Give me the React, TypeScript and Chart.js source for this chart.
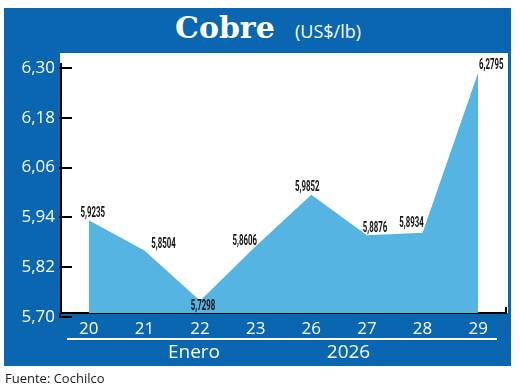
import React, { useEffect, useRef } from "react";
import { Chart, registerables } from "chart.js";

Chart.register(...registerables);

// ---- data ----
const DAYS = ["20", "21", "22", "23", "26", "27", "28", "29"];
const PRICES = [5.9235, 5.8504, 5.7298, 5.8606, 5.9852, 5.8876, 5.8934, 6.2795];
const Y_TICKS = [5.7, 5.82, 5.94, 6.06, 6.18, 6.3];
const TITLE = "Cobre";
const UNIT = "(US$/lb)";
const MONTH = "Enero";
const YEAR = "2026";
const SOURCE = "Fuente: Cochilco";

// ---- layout / style (label offsets from each point, px) ----
const LABEL_OFFSETS: [number, number][] = [
  [4, -7],
  [19, -6],
  [3, 6],
  [-11, -5],
  [-4, -7],
  [8, -7],
  [-11, -9],
  [13, -7],
];
const TICK_SHIFT = 4;

const BLUE = "#0a66b0";
const FILL = "#56b4e3";
const SANS = "'Open Sans', 'Noto Sans', sans-serif";

const fmt = (v: number, d: number) => v.toFixed(d).replace(".", ",");

const decorPlugin = {
  id: "decor",
  afterDraw(chart: any) {
    const { ctx, chartArea: a, scales } = chart;
    const y = scales.y;
    ctx.save();
    ctx.strokeStyle = "#000";
    ctx.lineWidth = 2;
    // y axis extension below the x axis
    ctx.beginPath();
    ctx.moveTo(a.left - 1, a.bottom);
    ctx.lineTo(a.left - 1, a.bottom + TICK_SHIFT + 1);
    ctx.stroke();
    y.ticks.forEach((_t: any, i: number) => {
      const py = Math.round(y.getPixelForTick(i)) + TICK_SHIFT;
      ctx.beginPath();
      ctx.moveTo(a.left - 2, py);
      ctx.lineTo(a.left + 11, py);
      ctx.stroke();
    });
    ctx.beginPath();
    ctx.moveTo(a.right, a.bottom);
    ctx.lineTo(a.right, a.bottom - 6);
    ctx.stroke();

    const meta = chart.getDatasetMeta(0);
    ctx.fillStyle = "#111";
    ctx.font = "bold 14px Roboto, 'Liberation Sans', sans-serif";
    ctx.textAlign = "center";
    ctx.textBaseline = "middle";
    meta.data.forEach((pt: any, i: number) => {
      const [dx, dy] = LABEL_OFFSETS[i];
      ctx.save();
      ctx.translate(pt.x + dx, pt.y + dy);
      ctx.scale(0.56, 1);
      ctx.fillText(fmt(PRICES[i], 4), 0, 0);
      ctx.restore();
    });
    ctx.restore();
  },
};

export default function App() {
  const ref = useRef<HTMLCanvasElement | null>(null);

  useEffect(() => {
    if (!ref.current) return;
    const chart = new Chart(ref.current, {
      type: "line",
      data: {
        labels: DAYS,
        datasets: [
          {
            data: PRICES,
            fill: "start",
            backgroundColor: FILL,
            borderWidth: 0,
            borderColor: "rgba(0,0,0,0)",
            pointRadius: 0,
            tension: 0,
          },
        ],
      },
      options: {
        responsive: false,
        animation: false,
        layout: { padding: { left: 0, right: 14, top: 64, bottom: 0 } },
        plugins: {
          legend: { display: false },
          tooltip: { enabled: false },
          title: { display: false },
        },
        scales: {
          x: {
            type: "category",
            offset: true,
            z: 1,
            grid: { display: false, drawTicks: false },
            border: { display: true, color: "#000", width: 2 },
            ticks: {
              color: "#fff",
              padding: 6,
              font: { family: SANS, size: 17 },
              maxRotation: 0,
            },
            afterFit: (s: any) => {
              s.height = 75;
            },
          },
          y: {
            min: 5.7,
            max: 6.3,
            z: 1,
            grid: { display: false, drawTicks: false },
            border: { display: true, color: "#000", width: 2 },
            afterBuildTicks: (s: any) => {
              s.ticks = Y_TICKS.map((v) => ({ value: v }));
            },
            ticks: {
              color: "#fff",
              padding: 6,
              labelOffset: TICK_SHIFT,
              font: { family: SANS, size: 17 },
              callback: (v: any) => fmt(Number(v), 2),
            },
            afterFit: (s: any) => {
              s.width = 61;
            },
          },
        },
      },
      plugins: [decorPlugin],
    });
    return () => chart.destroy();
  }, []);

  return (
    <div
      style={{
        position: "absolute",
        left: 0,
        top: 0,
        width: 520,
        height: 388,
        background: "#fff",
        overflow: "hidden",
      }}
    >
      <div style={{ position: "absolute", left: 4, top: 8, width: 507, height: 358, background: BLUE }} />
      <div style={{ position: "absolute", left: 60, top: 53, width: 448, height: 260, background: "#fff" }} />
      <span
        style={{
          position: "absolute",
          left: 175,
          top: 12.6,
          fontFamily: "'DejaVu Serif', serif",
          fontWeight: "bold",
          fontSize: 30,
          lineHeight: "30px",
          color: "#fff",
          whiteSpace: "nowrap",
        }}
      >
        {TITLE}
      </span>
      <span
        style={{
          position: "absolute",
          left: 295,
          top: 22,
          fontFamily: SANS,
          fontSize: 18,
          lineHeight: "18px",
          color: "#fff",
          whiteSpace: "nowrap",
        }}
      >
        {UNIT}
      </span>
      <canvas ref={ref} width={520} height={388} style={{ position: "absolute", left: 0, top: 0 }} />
      <div style={{ position: "absolute", left: 67, top: 338, width: 430, height: 2, background: "#fff" }} />
      <span
        style={{
          position: "absolute",
          left: 194,
          top: 342,
          transform: "translateX(-50%)",
          fontFamily: SANS,
          fontSize: 19,
          lineHeight: "19px",
          color: "#fff",
          whiteSpace: "nowrap",
        }}
      >
        {MONTH}
      </span>
      <span
        style={{
          position: "absolute",
          left: 348.5,
          top: 342,
          transform: "translateX(-50%)",
          fontFamily: SANS,
          fontSize: 19,
          lineHeight: "19px",
          color: "#fff",
          whiteSpace: "nowrap",
        }}
      >
        {YEAR}
      </span>
      <span
        style={{
          position: "absolute",
          left: 5,
          top: 371.5,
          fontFamily: SANS,
          fontSize: 13,
          lineHeight: "13px",
          color: "#1a1a1a",
          whiteSpace: "nowrap",
        }}
      >
        {SOURCE}
      </span>
    </div>
  );
}
